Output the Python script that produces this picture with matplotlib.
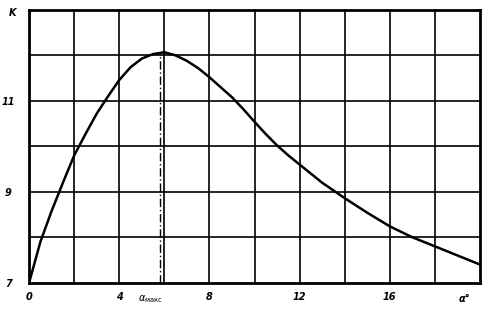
import matplotlib
matplotlib.use('Agg')
import matplotlib.pyplot as plt

# values
alpha = [0, 0.5, 1, 1.5, 2, 2.5, 3, 3.5, 4, 4.5, 5, 5.5, 6, 6.5, 7, 7.5, 8, 8.5, 9,
         9.5, 10, 10.5, 11, 11.5, 12, 12.5, 13, 13.5, 14, 15, 16, 17, 18, 19, 20]
K = [7.0, 7.9, 8.58, 9.2, 9.8, 10.27, 10.72, 11.1, 11.46, 11.74, 11.93, 12.03, 12.07,
     12.0, 11.88, 11.72, 11.52, 11.3, 11.08, 10.82, 10.54, 10.27, 10.02, 9.8, 9.6,
     9.4, 9.2, 9.03, 8.86, 8.54, 8.24, 8.0, 7.8, 7.6, 7.4]
alpha_max = 5.8
K_max = 12.06
xticks = [0, 4, 8, 12, 16]
yticks = [7, 9, 11]

fig = plt.figure(figsize=(5.02, 3.11), dpi=100)
ax = fig.add_axes([0.058, 0.091, 0.898, 0.877])

ax.set_xlim(0, 20)
ax.set_ylim(7, 13)

# grid
for gx in range(2, 20, 2):
    ax.axvline(gx, color='black', lw=1.2, zorder=1)
for gy in range(8, 13):
    ax.axhline(gy, color='black', lw=1.2, zorder=1)

ax.plot(alpha, K, color='black', lw=1.8, zorder=3)
ax.plot([alpha_max, alpha_max], [7, K_max], color='black', lw=1.0,
        linestyle=(0, (6, 2, 1, 2)), zorder=2)

for s in ax.spines.values():
    s.set_linewidth(2)

fnt = dict(fontsize=7, fontstyle='italic', fontweight='bold')
ax.set_xticks(xticks)
ax.set_xticklabels([str(v) for v in xticks], **fnt)
ax.set_yticks(yticks)
ax.set_yticklabels([str(v) for v in yticks], **fnt)
ax.tick_params(axis='x', length=0, pad=7)
ax.tick_params(axis='y', length=0, pad=15)

for lab in ax.get_yticklabels():
    lab.set_horizontalalignment('center')

ax.text(-0.75, 12.93, 'K', ha='center', va='center', **fnt)
ax.text(19.3, 6.65, 'α°', ha='center', va='center', **fnt)
ax.text(alpha_max - 0.4, 6.65, r'$\alpha_{\rm макс}$', ha='center', va='center',
        fontsize=7)

fig.savefig('out.png', dpi=100)
